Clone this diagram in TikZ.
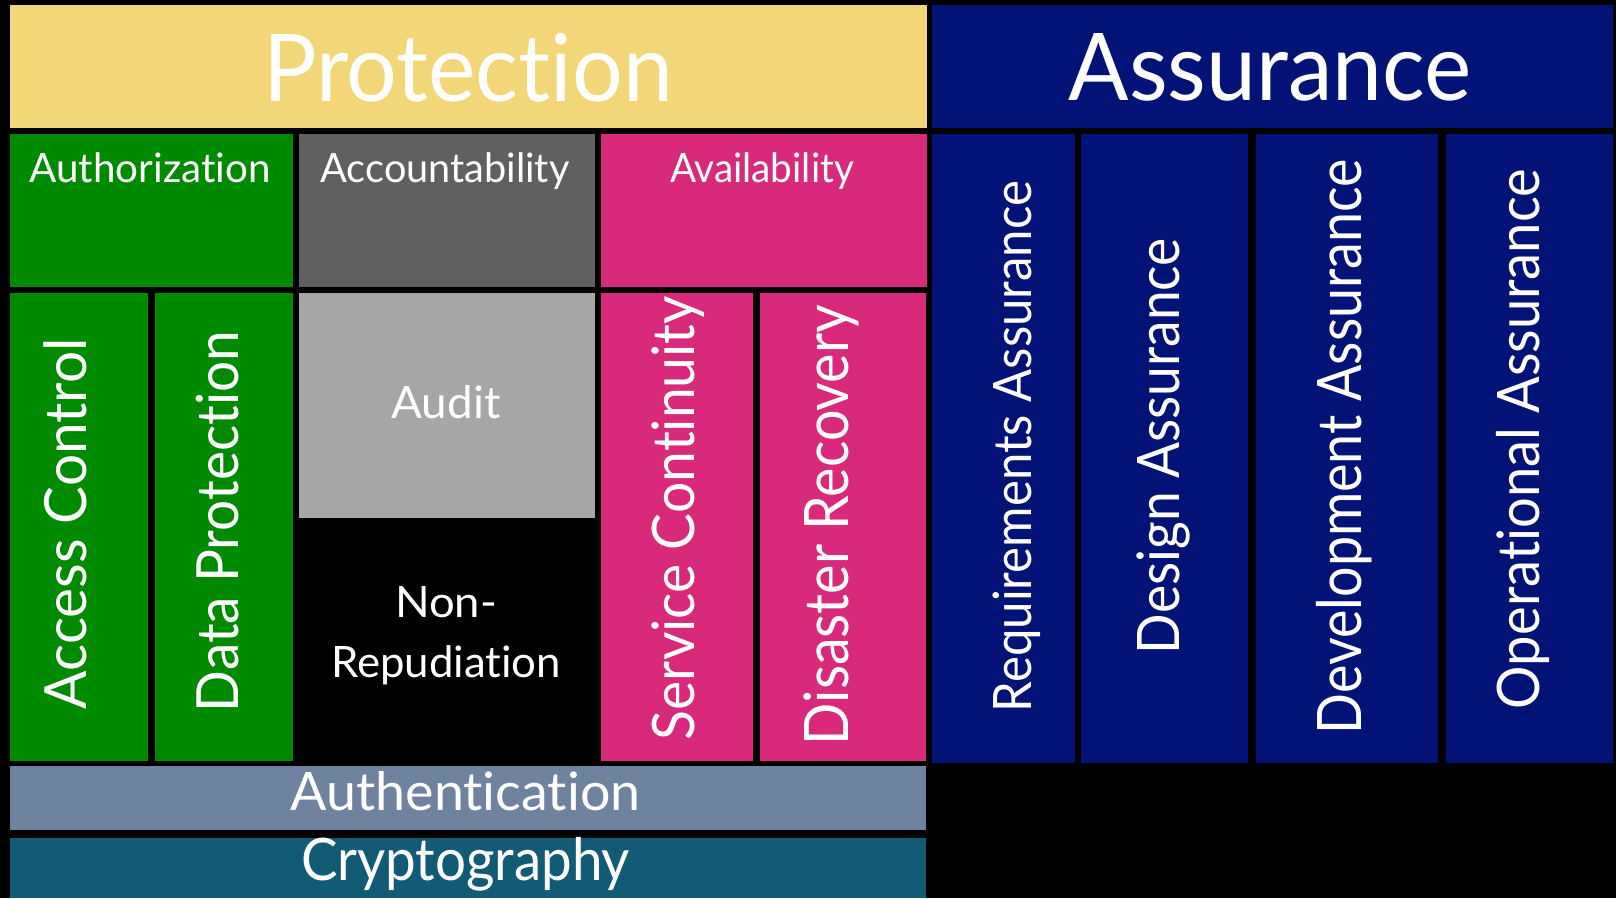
\documentclass[tikz,border=0pt]{standalone}
\usepackage{fontspec}
\setmainfont{Lato}[Ligatures=NoCommon]
\usepackage{graphicx}
\usetikzlibrary{fit}
\definecolor{cYellow}{HTML}{F2D677}
\definecolor{cNavy}{HTML}{031276}
\definecolor{cGreen}{HTML}{008A00}
\definecolor{cDark}{HTML}{5F605F}
\definecolor{cPink}{HTML}{D8297A}
\definecolor{cLight}{HTML}{A6A6A6}
\definecolor{cSlate}{HTML}{6F83A1}
\definecolor{cTeal}{HTML}{125B76}
\newcommand\fitw[2]{\setbox0=\hbox{#2}\pgfmathsetmacro\fitr{#1/\the\wd0}\scalebox{\fitr}[1]{\box0}}
\newcommand\fsz[1]{\fontsize{#1}{#1}\selectfont}
\tikzset{
  box/.style={inner sep=0pt, outer sep=0pt, draw=none},
  lbl/.style={text=white, inner sep=0pt, outer sep=0pt, anchor=base},
  vlbl/.style={lbl, rotate=90}
}
\begin{document}
\begin{tikzpicture}[x=1pt,y=-1pt]
\fill[black] (0,0) rectangle (1616,898);
\useasboundingbox (0,0) rectangle (1616,898);
% boxes
\node[box, fill=cYellow, fit={(10,5) (927,128)}] (prot) {};
\node[box, fill=cNavy, fit={(931.6,5) (1613,128)}] (assur) {};
\node[box, fill=cGreen, fit={(10,134.3) (292.6,286.7)}] (authz) {};
\node[box, fill=cDark, fit={(298.7,134.3) (595,286.7)}] (acct) {};
\node[box, fill=cPink, fit={(601,134.3) (927,286.7)}] (avail) {};
\node[box, fill=cGreen, fit={(10,292.7) (148.4,761)}] (ac) {};
\node[box, fill=cGreen, fit={(154.6,292.7) (292.7,761)}] (dp) {};
\node[box, fill=cLight, fit={(298.8,292.7) (595,517.7)}] (audit) {};
\node[box, fill=cPink, fit={(600.8,292.7) (753.4,761)}] (sc) {};
\node[box, fill=cPink, fit={(759.6,292.7) (926,761)}] (dr) {};
\node[box, fill=cNavy, fit={(931.7,134.3) (1074.9,763)}] (req) {};
\node[box, fill=cNavy, fit={(1081,134.3) (1248.3,763)}] (des) {};
\node[box, fill=cNavy, fit={(1256,134.3) (1438.2,763)}] (dev) {};
\node[box, fill=cNavy, fit={(1445.8,134.3) (1613,763)}] (ops) {};
\node[box, fill=cSlate, fit={(10,766) (926,830)}] (authn) {};
\node[box, fill=cTeal, fit={(10,838) (926,898)}] (crypto) {};
% labels
\node[lbl, font=\fsz{93.5}] (tprot) at (468,101.7) {\fitw{410pt}{Protection}};
\node[lbl, font=\fsz{93.5}] (tassur) at (1270,100.7) {\fitw{403pt}{Assurance}};
\node[lbl, font=\fsz{40.5}] (tauthz) at (150,182.7) {\fitw{241pt}{Authorization}};
\node[lbl, font=\fsz{40.5}] (tacct) at (445,182.7) {\fitw{249pt}{Accountability}};
\node[lbl, font=\fsz{40.5}] (tavail) at (762,182.7) {\fitw{184pt}{Availability}};
\node[lbl, font=\fsz{44.7}] (taudit) at (446,418) {\fitw{109pt}{Audit}};
\node[lbl, font=\fsz{43.3}] (tnon) at (446,617) {\fitw{102pt}{Non-}};
\node[lbl, font=\fsz{43.3}] (trep) at (446,677) {\fitw{230pt}{Repudiation}};
\node[lbl, font=\fsz{53}] (tauthn) at (465.5,810) {\fitw{350pt}{Authentication}};
\node[lbl, font=\fsz{58.6}] (tcrypto) at (465.5,880) {\fitw{329pt}{Cryptography}};
\node[vlbl, font=\fsz{58.2}] (tac) at (86.7,523.5) {\fitw{371pt}{Access Control}};
\node[vlbl, font=\fsz{58.2}] (tdp) at (238.3,521.5) {\fitw{381pt}{Data Protection}};
\node[vlbl, font=\fsz{58.6}] (tsc) at (694.6,518) {\fitw{444pt}{Service Continuity}};
\node[vlbl, font=\fsz{61.4}] (tdr) at (848,525) {\fitw{440pt}{Disaster Recovery}};
\node[vlbl, font=\fsz{53}] (treq) at (1031,446.5) {\fitw{531pt}{Requirements Assurance}};
\node[vlbl, font=\fsz{58.6}] (tdes) at (1179.6,446) {\fitw{416pt}{Design Assurance}};
\node[vlbl, font=\fsz{61.4}] (tdev) at (1361.6,446.5) {\fitw{575pt}{Development Assurance}};
\node[vlbl, font=\fsz{58.6}] (tops) at (1539,439) {\fitw{540pt}{Operational Assurance}};
\end{tikzpicture}
\end{document}
